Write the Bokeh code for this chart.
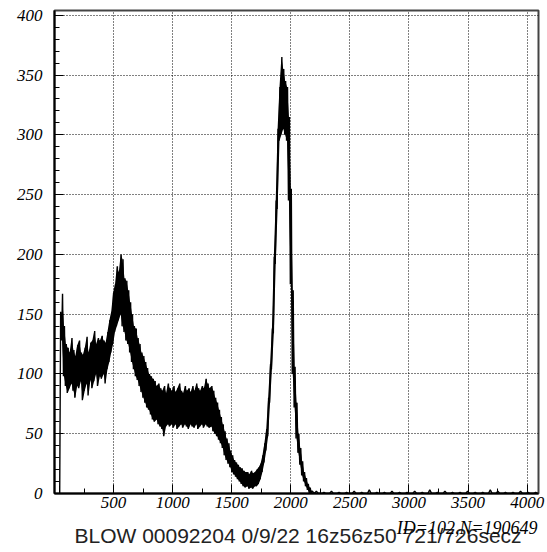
import numpy as np
from bokeh.plotting import figure
from bokeh.layouts import column
from bokeh.models import Range1d, FixedTicker, SingleIntervalTicker, Label
from bokeh.embed import file_html
from bokeh.resources import INLINE

# Spectrum ID=102: per 16-channel bin, lowest and highest counts seen
first_channel = 40
bin_width = 16
counts_low = [
    0, 128, 98, 90, 84, 88, 92, 86, 80, 90,
    88, 94, 78, 86, 92, 82, 95, 88, 94, 100,
    90, 98, 96, 100, 92, 104, 110, 118, 125, 135,
    140, 145, 150, 140, 135, 128, 125, 118, 110, 104,
    98, 95, 90, 85, 80, 76, 72, 70, 66, 62,
    60, 62, 58, 56, 54, 48, 56, 58, 56, 58,
    55, 58, 54, 56, 58, 55, 58, 56, 54, 58,
    56, 55, 58, 54, 56, 58, 55, 58, 56, 55,
    56, 52, 50, 48, 45, 42, 38, 32, 28, 25,
    22, 18, 16, 14, 12, 10, 8, 6, 5, 6,
    4, 5, 4, 6, 6, 8, 12, 18, 26, 36,
    48, 76, 104, 134, 192, 238, 295, 300, 305, 300,
    295, 245, 175, 100, 72, 46, 34, 24, 15, 10,
    6, 3, 0, 0,
]
counts_high = [
    152, 167, 140, 125, 122, 118, 130, 120, 115, 124,
    128, 118, 116, 122, 131, 118, 126, 128, 136, 125,
    130, 128, 132, 128, 126, 135, 145, 152, 168, 175,
    190, 185, 200, 196, 180, 178, 170, 160, 150, 140,
    138, 130, 125, 118, 115, 110, 105, 100, 98, 96,
    94, 90, 92, 88, 86, 90, 84, 92, 88, 86,
    90, 85, 88, 92, 86, 84, 90, 86, 88, 85,
    90, 86, 92, 88, 86, 90, 88, 96, 92, 88,
    90, 86, 80, 76, 70, 64, 58, 52, 46, 42,
    36, 32, 28, 26, 24, 22, 21, 19, 18, 18,
    16, 19, 17, 18, 20, 22, 25, 32, 42, 54,
    80, 108, 138, 198, 245, 305, 340, 365, 355, 345,
    340, 315, 255, 170, 106, 76, 50, 38, 27, 18,
    13, 8, 5, 2,
]

# Sparse tail above the peak, 64-channel bins
tail_first_channel = first_channel + bin_width * len(counts_low)
tail_bin_width = 64
tail_high = [2, 1, 2, 1, 1, 2, 1, 3, 1, 1,
             2, 1, 1, 2, 1, 3, 1, 2, 1, 1,
             2, 1, 1, 3, 2, 1, 1, 2, 1, 1]

x_major = [500, 1000, 1500, 2000, 2500, 3000, 3500, 4000]
x_minor = [250, 750, 1250, 1750, 2250, 2750, 3250, 3750]

caption = "BLOW 00092204 0/9/22 16z56z50 721/726secz"
stats = "ID=102,N=190649"

SERIF = "Liberation Serif"
SANS = "Liberation Sans"

# Trace: each bin becomes a low->high stroke so the noise fills in
xs, ys = [], []
centers = []
for k, (lo, hi) in enumerate(zip(counts_low, counts_high)):
    x0 = first_channel + k * bin_width
    xs += [x0 + bin_width * 0.25, x0 + bin_width * 0.75]
    ys += [lo, hi]
    centers.append(x0 + bin_width * 0.5)
for k, hi in enumerate(tail_high):
    x0 = tail_first_channel + k * tail_bin_width
    xs += [x0 + tail_bin_width * 0.25, x0 + tail_bin_width * 0.5, x0 + tail_bin_width * 0.75]
    ys += [0, hi, 0]

p = figure(width=547, height=515, output_backend="svg", toolbar_location=None,
           x_range=Range1d(0, 4096), y_range=Range1d(0, 404),
           min_border_left=54, min_border_right=9, min_border_top=10,
           min_border_bottom=22)
p.background_fill_color = "white"
p.border_fill_color = "white"
p.outline_line_color = "#444444"
p.outline_line_width = 2

# dense body of the noisy band, then the jagged trace over it
p.varea(x=centers[1:], y1=counts_low[1:], y2=counts_high[1:], fill_color="black")
p.line(xs, ys, line_color="black", line_width=1.4)

xaxis = p.xaxis[0]
yaxis = p.yaxis[0]
xaxis.ticker = FixedTicker(ticks=x_major, minor_ticks=x_minor)
yaxis.ticker = SingleIntervalTicker(interval=50, num_minor_ticks=5)
p.xgrid[0].ticker = FixedTicker(ticks=x_major)
p.ygrid[0].ticker = SingleIntervalTicker(interval=50)

for g in (p.xgrid[0], p.ygrid[0]):
    g.grid_line_color = "black"
    g.grid_line_dash = "1 2"
    g.grid_line_width = 1

for ax in (xaxis, yaxis):
    ax.axis_line_color = "black"
    ax.axis_line_width = 2
    ax.major_tick_in = 9
    ax.major_tick_out = 0
    ax.minor_tick_in = 5
    ax.minor_tick_out = 0
    ax.major_tick_line_color = "black"
    ax.minor_tick_line_color = "black"
    ax.major_label_text_font = SERIF
    ax.major_label_text_font_style = "italic"
    ax.major_label_text_font_size = "17px"
    ax.major_label_text_color = "black"
yaxis.major_label_standoff = 12
xaxis.major_label_standoff = 3

# footer strip with the run caption and histogram statistics,
# on the same channel scale as the spectrum above it
foot = figure(width=547, height=37, output_backend="svg", toolbar_location=None,
              x_range=Range1d(0, 4096), y_range=Range1d(0, 37),
              x_axis_location=None, y_axis_location=None,
              min_border_left=54, min_border_right=9,
              min_border_top=0, min_border_bottom=0)
foot.outline_line_color = None
foot.grid.visible = False
foot.background_fill_color = "white"
foot.border_fill_color = "white"
foot.add_layout(Label(x=2061, y=17.5, text=caption, text_align="center",
                      text_baseline="middle", text_font=SANS,
                      text_font_size="21px", text_color="#222222"))
foot.add_layout(Label(x=4088, y=25, text=stats, text_align="right",
                      text_baseline="alphabetic", text_font=SERIF,
                      text_font_style="italic", text_font_size="18px",
                      text_color="black"))

layout = column(p, foot, spacing=0)
open("out.html", "w").write(file_html(layout, INLINE))
